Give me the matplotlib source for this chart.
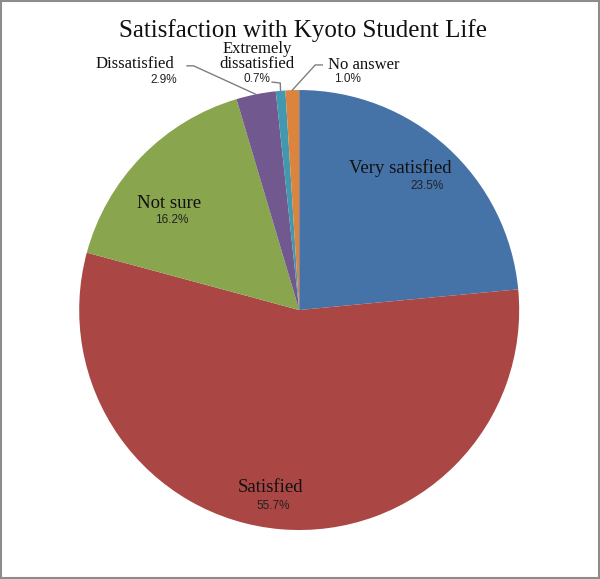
import matplotlib.pyplot as plt
import numpy as np
from matplotlib.patches import Rectangle

# data ========================================================================
categories = ['Very satisfied', 'Satisfied', 'Not sure', 'Dissatisfied',
              'Extremely\ndissatisfied', 'No answer']
values = [23.5, 55.7, 16.2, 2.9, 0.7, 1.0]
colors = ['#4572A7', '#AA4643', '#89A54E', '#71588F', '#4198AF', '#DB843D']

# label positions (inside labels and outside ones with leaders)
name_pos = [(0.46, 0.645), (-0.13, -0.805), (-0.59, 0.486),
            (-0.745, 1.118), (-0.19, 1.152), (0.295, 1.114)]
pct_pos = [(0.58, 0.564), (-0.12, -0.89), (-0.58, 0.41),
           (-0.614, 1.045), (-0.19, 1.052), (0.218, 1.052)]
name_size = [13.5, 13.5, 13.5, 12, 12, 12]

fig = plt.figure(figsize=(6.0, 5.79), dpi=100)
fig.patches.append(Rectangle((0.002, 0.002), 0.996, 0.996, transform=fig.transFigure,
                             fill=False, edgecolor='#8c8c8c', linewidth=1.5))

ax = fig.add_axes([0.132, 0.0846, 0.7333, 0.7599])
wedges, _ = ax.pie(values, colors=colors, startangle=90, counterclock=False,
                   radius=1.0, wedgeprops=dict(linewidth=0))
ax.set_xlim(-1, 1)
ax.set_ylim(-1, 1)
ax.set_aspect('equal')

for i, w in enumerate(wedges):
    nx, ny = name_pos[i]
    px, py = pct_pos[i]
    ax.text(nx, ny, categories[i], ha='center', va='center', fontsize=name_size[i],
            family='Liberation Serif', color='#111111', clip_on=False,
            linespacing=0.95)
    ax.text(px, py, '%.1f%%' % values[i], ha='center', va='center', fontsize=8.5,
            family='Liberation Sans', color='#222222', clip_on=False)
    if i >= 3:
        mid = np.deg2rad((w.theta1 + w.theta2) / 2)
        ex, ey = np.cos(mid), np.sin(mid)
        if i == 3:
            xs = [-0.51, -0.48, ex]
            ys = [1.11, 1.11, ey]
        elif i == 4:
            xs = [-0.123, -0.086, ex]
            ys = [1.036, 1.032, ey]
        else:
            xs = [0.105, 0.073, ex]
            ys = [1.114, 1.114, ey]
        ax.plot(xs, ys, color='#7f7f7f', linewidth=1, clip_on=False)

fig.text(0.505, 0.948, 'Satisfaction with Kyoto Student Life', ha='center',
         va='center', fontsize=18, family='Liberation Serif', color='#111111')

plt.savefig('out.png', dpi=100)
